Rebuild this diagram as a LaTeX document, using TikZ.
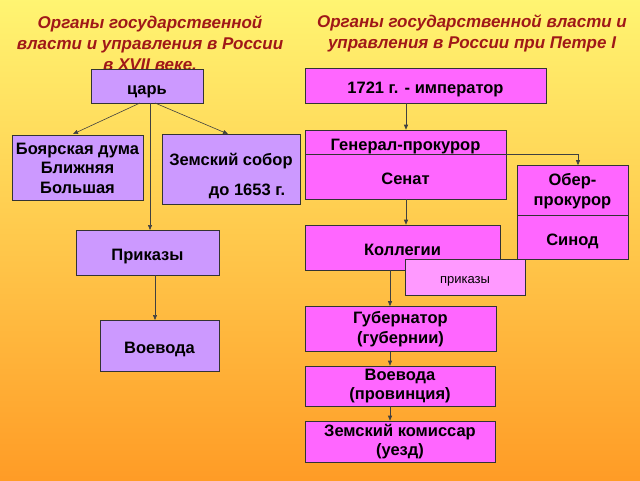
\documentclass[tikz,border=0pt]{standalone}
\usepackage{fontspec}
\setmainfont{Liberation Sans}
\usetikzlibrary{arrows.meta}
\definecolor{lav}{HTML}{CC99FF}
\definecolor{mag}{HTML}{FF66FF}
\definecolor{pk}{HTML}{FF99FF}
\definecolor{ttl}{HTML}{A01818}
\begin{document}
\begin{tikzpicture}[x=1pt,y=-1pt,
 bx/.style={draw=black!80,line width=0.6pt,fill=lav,font=\bfseries\fontsize{16.5}{19.5}\selectfont,align=center,inner sep=0pt},
 mx/.style={bx,fill=mag},
 one/.style={text height=16pt,text depth=0pt},
 ar/.style={-{Triangle[length=5pt,width=4pt]},line width=0.6pt,black!75},
 tt/.style={font=\bfseries\itshape\fontsize{17}{21}\selectfont,text=ttl,align=center}]
\shade[left color=yellow!60!orange!40!white, right color=orange!85!yellow,shading angle=0] (0,0) rectangle (640,480);
\shade[top color=yellow!70!white, bottom color=orange!70,opacity=0.5] (0,0) rectangle (640,480);
\node[tt] (t1) at (150,43) {Органы государственной\\власти и управления в России\\в XVII веке.};
\node[tt] (t2) at (472,33) {Органы государственной власти и\\управления в России при Петре I};
% left
\node[bx,one,minimum width=112,minimum height=34] (tsar) at (147,86) {царь};
\node[bx,minimum width=131,minimum height=65] (duma) at (77.5,168) {Боярская дума\\Ближняя\\Большая};
\node[bx,minimum width=138,minimum height=70] (sobor) at (231,169) {};
\node[font=\bfseries\fontsize{16.5}{19}\selectfont] (s1) at (231,161) {Земский собор};
\node[font=\bfseries\fontsize{16.5}{19}\selectfont] (s2) at (247,191) {до 1653 г.};
\node[bx,one,minimum width=143,minimum height=45] (prik) at (147.5,252.5) {Приказы};
\node[bx,one,minimum width=119,minimum height=51] (voev) at (159.5,345.5) {Воевода};
\coordinate (ta) at (140,103); \coordinate (da) at (73,134);
\coordinate (tb) at (150,103); \coordinate (pb) at (150,230);
\coordinate (tc) at (155,103); \coordinate (sc) at (228,134);
\coordinate (pd) at (155,275); \coordinate (vd) at (155,320);
\draw[ar] (ta) -- (da); \draw[ar] (tb) -- (pb); \draw[ar] (tc) -- (sc); \draw[ar] (pd) -- (vd);
% right
\node[mx,one,minimum width=241,minimum height=35] (imp) at (425.5,85.5) {1721 г. - император};
\node[mx,one,minimum width=201,minimum height=24] (gp) at (405.5,142) {Генерал-прокурор};
\node[mx,one,minimum width=201,minimum height=45] (sen) at (405.5,176.5) {Сенат};
\node[mx,minimum width=111,minimum height=51] (ober) at (572.5,191) {Обер-\\прокурор};
\node[mx,one,minimum width=111,minimum height=44] (sin) at (572.5,237) {Синод};
\node[mx,one,minimum width=195,minimum height=45] (kol) at (402.5,247.5) {Коллегии};
\node[bx,one,fill=pk,font=\fontsize{13}{15}\selectfont,text height=12pt,minimum width=120,minimum height=36] (pr2) at (465,277) {приказы};
\node[mx,minimum width=191,minimum height=45] (gub) at (400.5,329) {Губернатор\\(губернии)};
\node[mx,minimum width=190,minimum height=40] (voev2) at (400,386) {Воевода\\(провинция)};
\node[mx,minimum width=190,minimum height=41] (zem) at (400,441.5) {Земский комиссар\\(уезд)};
\draw[ar] (imp.south -| 406,0) -- (gp.north -| 406,0);
\draw[ar] (sen.south -| 406,0) -- (kol.north -| 406,0);
\draw[ar] (gp.south east) -| (ober.north -| 578,0);
\draw[ar] (kol.south -| 390,0) -- (gub.north -| 390,0);
\draw[ar] (gub.south -| 390,0) -- (voev2.north -| 390,0);
\draw[ar] (voev2.south -| 390,0) -- (zem.north -| 390,0);
\end{tikzpicture}
\end{document}
